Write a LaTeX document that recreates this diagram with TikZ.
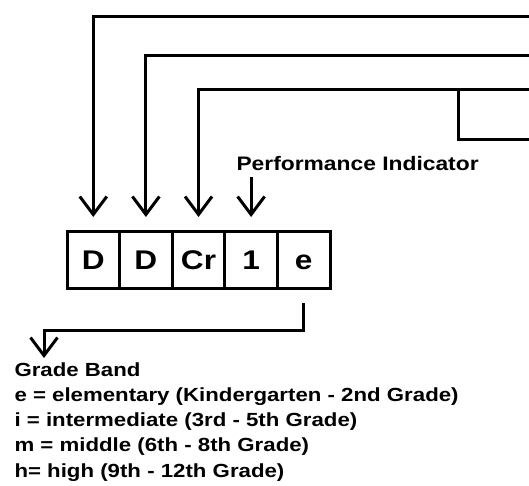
\documentclass[tikz,border=0pt]{standalone}
\usepackage{fontspec}
\setmainfont{Liberation Sans}[FakeStretch=1.17]
\usetikzlibrary{arrows.meta}
\begin{document}
\begin{tikzpicture}[x=1bp,y=-1bp,
  line width=3bp,
  arr/.style={-{Straight Barb[length=18bp,width=27bp]}, shorten >=14bp},
  cell/.style={draw, line width=3bp, minimum width=52.6bp, minimum height=57bp,
    inner sep=0pt, outer sep=0pt, text height=20bp, text depth=0pt,
    font=\fontsize{27bp}{30bp}\selectfont\bfseries},
  lbl/.style={inner sep=0pt, anchor=base west,
    font=\fontsize{19bp}{25bp}\selectfont\bfseries}
]
\useasboundingbox (0,0) rectangle (529,486);
% cells
\node[cell] (b1) at (93.3,259.5) {D};
\node[cell] (b2) at (145.9,259.5) {D};
\node[cell] (b3) at (198.5,259.5) {Cr};
\node[cell] (b4) at (251.1,259.5) {1};
\node[cell] (b5) at (303.7,259.5) {e};
% free ends
\coordinate (r1) at (535,17);
\coordinate (r2) at (535,56);
\coordinate (r3) at (535,90);
\coordinate (r4) at (535,140);
\coordinate (j) at (458,90);
\coordinate (p4) at (251.1,177);
% connectors
\draw[arr] (r1) -| (b1.north);
\draw[arr] (r2) -| (b2.north);
\draw[arr] (r3) -| (b3.north);
\draw (j) |- (r4);
\draw[arr] (p4) -- (b4.north);
% label
\node[lbl, font=\fontsize{19.5bp}{25bp}\selectfont\bfseries] (pi) at (235,171) {Performance Indicator};
% grade band
\node[lbl] (gb) at (13,376) {Grade Band};
\node[lbl] (l1) at (13,401.3) {e = elementary (Kindergarten - 2nd Grade)};
\node[lbl] (l2) at (13,426.6) {i = intermediate (3rd - 5th Grade)};
\node[lbl] (l3) at (13,451.9) {m = middle (6th - 8th Grade)};
\node[lbl] (l4) at (13,477.2) {h= high (9th - 12th Grade)};
\coordinate (gbtip) at (44,372);
\draw[arr] ([yshift=-15bp]b5.south) |- (gbtip |- 0,330) -- (gbtip);
\end{tikzpicture}
\end{document}
